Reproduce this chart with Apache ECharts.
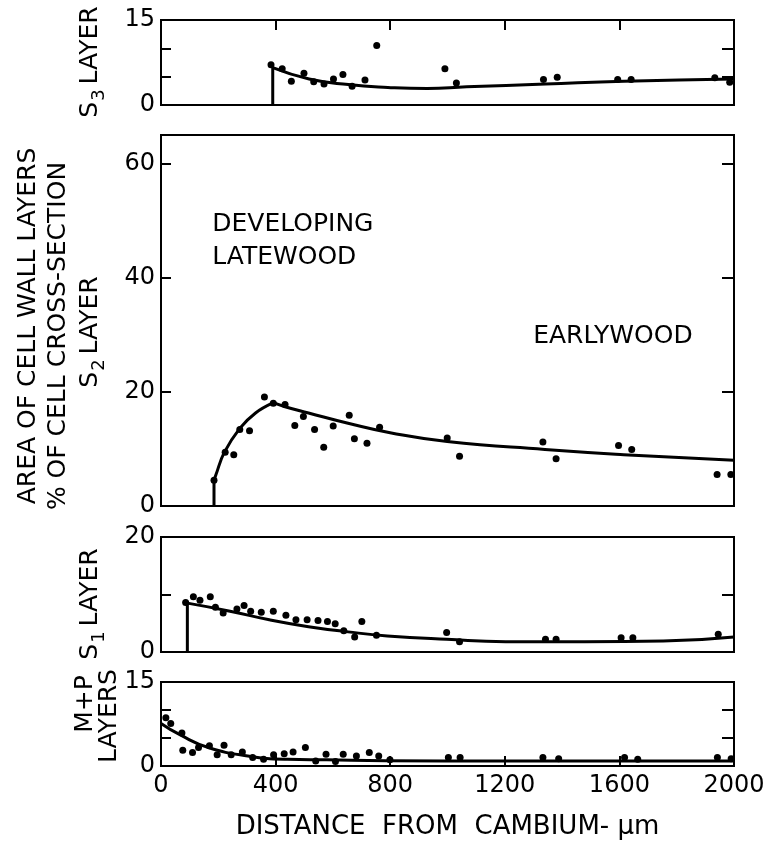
<!DOCTYPE html>
<html>
<head>
<meta charset="utf-8">
<script src="https://cdn.jsdelivr.net/npm/echarts@6/dist/echarts.min.js"></script>
<style>
  html, body { margin: 0; padding: 0; background: #fff; }
  #chart { width: 768px; height: 846px; }
</style>
</head>
<body>
<div id="chart"></div>
<script>
// values: distance from cambium (um) vs % of cell cross-section

// S3 layer
const s3X = [384, 423, 455, 499, 533, 569, 602, 635, 667, 712, 753, 991, 1031, 1335, 1383, 1594, 1641, 1933, 1985];
const s3Y = [7.1, 6.4, 4.2, 5.6, 4.1, 3.7, 4.6, 5.4, 3.3, 4.4, 10.5, 6.4, 3.9, 4.5, 4.9, 4.5, 4.5, 4.8, 4.0];
const s3CurveX = [390, 517, 654, 792, 929, 1067, 1342, 1616, 2000];
const s3CurveY = [6.6, 4.6, 3.6, 3.1, 2.9, 3.2, 3.7, 4.2, 4.6];

// S2 layer
const s2X = [185, 224, 254, 275, 309, 361, 392, 433, 467, 497, 536, 568, 601, 657, 675, 719, 763, 999, 1042, 1333, 1379, 1597, 1643, 1941, 1989];
const s2Y = [4.5, 9.4, 9.0, 13.4, 13.2, 19.1, 18.0, 17.8, 14.1, 15.7, 13.4, 10.3, 14.0, 15.9, 11.8, 11.0, 13.8, 11.9, 8.7, 11.2, 8.3, 10.6, 9.9, 5.5, 5.5];
const s2RiseX = [185, 192, 220, 275, 330, 392];
const s2RiseY = [4.5, 5.5, 9.3, 13.6, 16.3, 18.1];
const s2FallX = [392, 433, 515, 653, 804, 999, 1340, 1615, 2000];
const s2FallY = [18.1, 17.4, 16.3, 14.5, 12.8, 11.3, 9.9, 9.0, 8.0];

// S1 layer
const s1X = [86, 113, 136, 172, 190, 217, 265, 290, 313, 350, 392, 436, 471, 510, 548, 581, 608, 638, 676, 701, 752, 997, 1042, 1342, 1379, 1606, 1647, 1945];
const s1Y = [8.6, 9.6, 9.0, 9.6, 7.8, 6.8, 7.5, 8.1, 7.1, 6.9, 7.1, 6.4, 5.6, 5.6, 5.5, 5.3, 4.9, 3.7, 2.6, 5.3, 2.9, 3.4, 1.8, 2.2, 2.2, 2.5, 2.5, 3.1];
const s1CurveX = [92, 241, 378, 515, 653, 790, 997, 1203, 1478, 1753, 2000];
const s1CurveY = [8.5, 7.1, 5.6, 4.4, 3.5, 2.8, 2.2, 1.8, 1.8, 1.9, 2.6];

// M+P layers
const mpX = [17, 34, 73, 76, 110, 131, 169, 196, 220, 245, 284, 320, 358, 393, 430, 461, 504, 540, 576, 609, 636, 682, 727, 760, 799, 1003, 1044, 1333, 1388, 1618, 1664, 1942, 1990];
const mpY = [8.6, 7.6, 5.9, 2.8, 2.4, 3.3, 3.6, 2.0, 3.7, 2.0, 2.5, 1.5, 1.2, 2.0, 2.2, 2.5, 3.3, 0.9, 2.1, 0.8, 2.1, 1.8, 2.4, 1.8, 1.1, 1.5, 1.5, 1.5, 1.3, 1.5, 1.2, 1.5, 1.3];
const mpCurveX = [0, 69, 165, 303, 441, 579, 785, 1200, 2000];
const mpCurveY = [7.6, 5.5, 3.3, 1.8, 1.2, 1.1, 0.95, 0.9, 0.9];

// y axis ranges and the tick values that carry a label
const yMax = [15, 65, 20, 15];
const yStep = [5, 20, 10, 5];
const yLabels = [[0, 15], [0, 20, 40, 60], [0, 20], [0, 15]];

// text inside the S2 panel
const notes = ['DEVELOPING\nLATEWOOD', 'EARLYWOOD'];
const noteAt = [[179, 46.4], [1299, 29.7]];

const FONT = 'DejaVu Sans';
const BLACK = '#000';

const zip = (xs, ys) => xs.map((x, i) => [x, ys[i]]);

const chart = echarts.init(document.getElementById('chart'));

const gridBoxes = [
  { top: 20, height: 85 },
  { top: 135, height: 371 },
  { top: 537, height: 115 },
  { top: 682, height: 84 }
];

const grids = gridBoxes.map(g => ({
  left: 161, width: 573, top: g.top, height: g.height,
  outerBoundsMode: 'none',
  show: true, borderColor: BLACK, borderWidth: 2
}));

const xAxes = gridBoxes.map((g, i) => ({
  gridIndex: i,
  type: 'value',
  min: 0, max: 2000, interval: 400,
  position: i === 0 ? 'top' : 'bottom',
  axisLine: { show: false, onZero: false },
  axisTick: { show: i === 0 || i === 3, inside: true, length: 10, lineStyle: { color: BLACK, width: 2 } },
  axisLabel: {
    show: i === 3, color: BLACK, fontFamily: FONT, fontSize: 24, margin: 8,
    formatter: v => String(v)
  },
  splitLine: { show: false },
  name: i === 3 ? 'DISTANCE  FROM  CAMBIUM- \u03bcm' : '',
  nameLocation: 'middle',
  nameGap: 48,
  nameTextStyle: { color: BLACK, fontFamily: FONT, fontSize: 26 }
}));

const leftY = gridBoxes.map((g, i) => ({
  gridIndex: i,
  type: 'value',
  min: 0, max: yMax[i], interval: yStep[i],
  axisLine: { show: true, onZero: false, lineStyle: { color: BLACK, width: 2 } },
  axisTick: { show: true, inside: true, length: 10, lineStyle: { color: BLACK, width: 2 } },
  axisLabel: {
    color: BLACK, fontFamily: FONT, fontSize: 24, margin: 6,
    formatter: v => yLabels[i].includes(v) ? String(v) : ''
  },
  splitLine: { show: false }
}));

const rightY = gridBoxes.map((g, i) => ({
  gridIndex: i,
  type: 'value',
  position: 'right',
  min: 0, max: yMax[i], interval: yStep[i],
  axisLine: { show: false, onZero: false },
  axisTick: { show: true, inside: true, length: 12, lineStyle: { color: BLACK, width: 2 } },
  axisLabel: { show: false },
  splitLine: { show: false }
}));

const dots = (i, xs, ys) => ({
  type: 'scatter', xAxisIndex: i, yAxisIndex: i,
  data: zip(xs, ys),
  symbol: 'circle', symbolSize: 7,
  itemStyle: { color: BLACK, opacity: 1 },
  z: 3
});

const curve = (i, xs, ys, smooth) => ({
  type: 'line', xAxisIndex: i, yAxisIndex: i,
  data: zip(xs, ys),
  smooth: smooth,
  showSymbol: false,
  lineStyle: { color: BLACK, width: 3 },
  z: 2
});

const series = [
  dots(0, s3X, s3Y),
  curve(0, [s3CurveX[0], s3CurveX[0]], [0, s3CurveY[0]], false),
  curve(0, s3CurveX, s3CurveY, 0.5),

  dots(1, s2X, s2Y),
  curve(1, [s2RiseX[0], s2RiseX[0]], [0, s2RiseY[0]], false),
  curve(1, s2RiseX, s2RiseY, 0.4),
  curve(1, s2FallX, s2FallY, 0.5),

  dots(2, s1X, s1Y),
  curve(2, [s1CurveX[0], s1CurveX[0]], [0, s1CurveY[0]], false),
  curve(2, s1CurveX, s1CurveY, 0.5),

  dots(3, mpX, mpY),
  curve(3, mpCurveX, mpCurveY, 0.5),

  {
    type: 'scatter', xAxisIndex: 1, yAxisIndex: 1,
    symbolSize: 0,
    itemStyle: { color: BLACK, opacity: 1 },
    data: notes.map((t, k) => ({ name: t, value: noteAt[k] })),
    label: {
      show: true, position: 'right', distance: 0,
      formatter: p => p.name,
      color: BLACK, opacity: 1, fontFamily: FONT, fontSize: 25, lineHeight: 33,
      align: 'left', verticalAlign: 'middle'
    },
    silent: true
  }
];

const rich = {
  a: { fontFamily: FONT, fontSize: 25, fill: BLACK },
  b: { fontFamily: FONT, fontSize: 18, fill: BLACK, padding: [18, 5, 0, 1] }
};

const sideText = (x, y, text) => ({
  type: 'text',
  x: x, y: y,
  rotation: Math.PI / 2,
  style: {
    text: text, fill: BLACK, fontFamily: FONT, fontSize: 25,
    align: 'center', verticalAlign: 'middle', rich: rich
  }
});

chart.setOption({
  backgroundColor: '#fff',
  animation: false,
  grid: grids,
  xAxis: xAxes,
  yAxis: leftY.concat(rightY),
  series: series,
  graphic: [
    sideText(28, 326, '{a|AREA OF CELL WALL LAYERS}'),
    sideText(58, 336, '{a|% OF CELL CROSS-SECTION}'),
    sideText(90, 62, '{a|S}{b|3}{a|LAYER}'),
    sideText(90, 332, '{a|S}{b|2}{a|LAYER}'),
    sideText(90, 604, '{a|S}{b|1}{a|LAYER}'),
    sideText(85, 704, '{a|M+P}'),
    sideText(109, 716, '{a|LAYERS}')
  ]
});
</script>
</body>
</html>
